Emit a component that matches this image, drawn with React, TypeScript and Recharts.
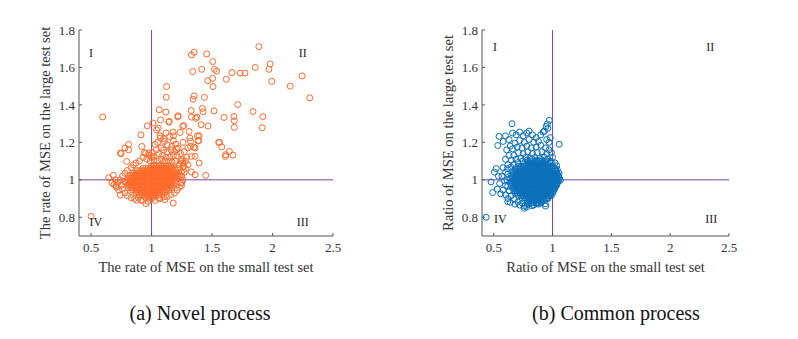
import React from 'react';
import { ScatterChart, Scatter, XAxis, YAxis, ReferenceLine, ReferenceDot } from 'recharts';

const FONT = "'Liberation Serif', 'Times New Roman', serif";
const ORANGE = '#FF6A2B';
const BLUE = '#0A70BA';
const PURPLE = '#7E3FA6';
const AXIS = '#555555';
const TEXT = '#333333';

const xTicks = [0.5, 1, 1.5, 2, 2.5];
const yTicks = [0.8, 1, 1.2, 1.4, 1.6, 1.8];
const quadrantNames = ['I', 'II', 'III', 'IV'];

// (a) Novel process — scattered points
const novelOutliers: [number, number][] = [
  [1.887, 1.711], [1.352, 1.681], [1.33, 1.667], [1.456, 1.672], [1.505, 1.631], [1.52, 1.59], [1.538, 1.58],
  [1.415, 1.59], [1.34, 1.578], [1.98, 1.619], [1.97, 1.59], [1.857, 1.6], [1.665, 1.573], [1.733, 1.57],
  [1.772, 1.57], [1.618, 1.537], [1.464, 1.53], [1.505, 1.542], [1.994, 1.526], [1.508, 1.498], [1.124, 1.498],
  [2.146, 1.5], [2.245, 1.555], [2.308, 1.438], [1.121, 1.441], [1.352, 1.448], [1.343, 1.43], [1.437, 1.44],
  [0.596, 1.336], [1.063, 1.374], [1.42, 1.381], [1.426, 1.363], [1.327, 1.37], [1.516, 1.368], [1.365, 1.328],
  [1.409, 1.294], [1.33, 1.335], [1.599, 1.333], [1.712, 1.402], [1.92, 1.338], [1.838, 1.365], [1.915, 1.278],
  [1.684, 1.315], [1.681, 1.338], [1.684, 1.28], [1.467, 1.287], [1.266, 1.29], [1.258, 1.285], [1.217, 1.336],
  [1.146, 1.312], [1.074, 1.32], [1.011, 1.303], [0.964, 1.288], [1.041, 1.267], [1.055, 1.276], [1.072, 1.223],
  [1.107, 1.205], [1.181, 1.235], [1.236, 1.253], [1.31, 1.258], [1.316, 1.223], [1.322, 1.206], [1.393, 1.235],
  [1.385, 1.207], [1.349, 1.175], [1.36, 1.125], [1.393, 1.09], [1.33, 1.125], [1.563, 1.2], [1.58, 1.176],
  [1.61, 1.125], [1.643, 1.152], [1.673, 1.132], [1.33, 1.042], [1.36, 1.027], [1.448, 1.024], [1.266, 1.072],
  [1.255, 1.107], [1.206, 1.164], [1.168, 1.178], [1.129, 1.187], [1.03, 1.189], [1.008, 1.146], [1.014, 1.125],
  [0.92, 1.178], [0.94, 1.146], [0.978, 1.143], [0.912, 1.24], [0.81, 1.189], [0.78, 1.17], [0.742, 1.143],
  [0.748, 1.14], [0.794, 1.098], [0.81, 1.16], [0.5, 0.805], [0.646, 1.011], [0.684, 1.024], [0.673, 0.983],
  [0.706, 0.969], [0.742, 0.919], [0.75, 0.97], [0.775, 0.99], [1.179, 0.876], [1.11, 0.894], [0.953, 0.873],
  [0.912, 0.891], [0.874, 0.891], [1.058, 0.903], [1.247, 0.969], [1.239, 0.982], [1.239, 1.024], [1.247, 1.042],
  [1.258, 1.09], [1.118, 1.362], [1.219, 1.342], [1.376, 1.335], [1.178, 1.255], [1.143, 1.308], [1.379, 1.235],
  [1.39, 1.21], [1.36, 1.17], [1.322, 1.178], [1.555, 1.2], [1.613, 1.134]
];

const novelMid: [number, number][] = [
  [1.07, 1.235], [1.1, 1.22], [1.12, 1.25], [1.15, 1.23], [1.18, 1.21], [1.2, 1.19], [1.22, 1.17], [1.19, 1.15],
  [1.16, 1.16], [1.13, 1.15], [1.1, 1.16], [1.08, 1.17], [1.05, 1.2], [1.04, 1.16], [1.06, 1.14], [1.09, 1.13],
  [1.12, 1.12], [1.15, 1.12], [1.18, 1.13], [1.21, 1.13], [1.24, 1.14], [1.27, 1.15], [1.29, 1.12], [1.3, 1.17],
  [1.26, 1.2], [1.28, 1.1], [1.24, 1.1], [1.2, 1.1], [1.17, 1.095], [1.14, 1.1], [1.11, 1.1], [1.08, 1.11],
  [1.05, 1.1], [1.02, 1.105], [0.99, 1.1], [0.96, 1.11], [0.93, 1.12], [0.9, 1.1], [0.87, 1.09], [0.85, 1.08],
  [0.83, 1.065], [0.8, 1.05], [0.78, 1.035], [0.76, 1.02], [0.74, 1.0], [0.72, 0.985], [0.7, 1.0], [0.69, 0.975],
  [0.71, 0.96], [0.73, 0.945], [0.76, 0.95], [0.78, 0.93], [0.8, 0.915], [0.83, 0.905], [0.86, 0.9], [0.89, 0.905],
  [0.93, 0.89], [0.97, 0.885], [1.0, 0.9], [1.03, 0.89], [1.07, 0.9], [1.1, 0.91], [1.13, 0.91], [1.16, 0.92],
  [1.19, 0.93], [1.21, 0.945], [1.23, 0.96], [1.25, 0.985], [1.26, 1.0], [1.25, 1.02], [1.27, 1.04], [1.28, 1.06],
  [1.26, 1.07], [1.3, 1.08], [1.23, 1.08], [1.22, 1.06], [0.98, 1.13], [1.0, 1.12], [0.95, 1.14]
];

// (a) dense core: one y per row, x values per row
const novelCoreY = [1.075, 1.062, 1.049, 1.036, 1.023, 1.01, 0.997, 0.984, 0.971, 0.958, 0.945, 0.932, 0.919, 0.906];
const novelCoreX: number[][] = [
  [1.0, 1.02, 1.04, 1.06, 1.08, 1.1, 1.12, 1.14, 1.16],
  [0.93, 0.95, 0.97, 0.99, 1.01, 1.03, 1.05, 1.07, 1.09, 1.11, 1.13, 1.15, 1.17, 1.19],
  [0.88, 0.9, 0.92, 0.94, 0.96, 0.98, 1.0, 1.02, 1.04, 1.06, 1.08, 1.1, 1.12, 1.14, 1.16, 1.18, 1.2],
  [0.85, 0.87, 0.89, 0.91, 0.93, 0.95, 0.97, 0.99, 1.01, 1.03, 1.05, 1.07, 1.09, 1.11, 1.13, 1.15, 1.17, 1.19, 1.21],
  [0.82, 0.84, 0.86, 0.88, 0.9, 0.92, 0.94, 0.96, 0.98, 1.0, 1.02, 1.04, 1.06, 1.08, 1.1, 1.12, 1.14, 1.16, 1.18, 1.2, 1.22],
  [0.81, 0.83, 0.85, 0.87, 0.89, 0.91, 0.93, 0.95, 0.97, 0.99, 1.01, 1.03, 1.05, 1.07, 1.09, 1.11, 1.13, 1.15, 1.17, 1.19, 1.21],
  [0.8, 0.82, 0.84, 0.86, 0.88, 0.9, 0.92, 0.94, 0.96, 0.98, 1.0, 1.02, 1.04, 1.06, 1.08, 1.1, 1.12, 1.14, 1.16, 1.18, 1.2],
  [0.79, 0.81, 0.83, 0.85, 0.87, 0.89, 0.91, 0.93, 0.95, 0.97, 0.99, 1.01, 1.03, 1.05, 1.07, 1.09, 1.11, 1.13, 1.15, 1.17, 1.19],
  [0.8, 0.82, 0.84, 0.86, 0.88, 0.9, 0.92, 0.94, 0.96, 0.98, 1.0, 1.02, 1.04, 1.06, 1.08, 1.1, 1.12, 1.14, 1.16, 1.18],
  [0.81, 0.83, 0.85, 0.87, 0.89, 0.91, 0.93, 0.95, 0.97, 0.99, 1.01, 1.03, 1.05, 1.07, 1.09, 1.11, 1.13, 1.15, 1.17],
  [0.84, 0.86, 0.88, 0.9, 0.92, 0.94, 0.96, 0.98, 1.0, 1.02, 1.04, 1.06, 1.08, 1.1, 1.12, 1.14],
  [0.87, 0.89, 0.91, 0.93, 0.95, 0.97, 0.99, 1.01, 1.03, 1.05, 1.07, 1.09, 1.11],
  [0.9, 0.92, 0.94, 0.96, 0.98, 1.0, 1.02, 1.04, 1.06],
  [0.95, 0.97, 0.99, 1.01]
];

// (b) Common process — scattered points
const commonOutliers: [number, number][] = [
  [0.972, 1.318], [0.955, 1.298], [0.945, 1.285], [0.96, 1.275], [0.93, 1.26], [0.655, 1.3], [0.545, 1.232],
  [0.534, 1.183], [0.58, 1.205], [0.6, 1.235], [0.63, 1.215], [0.66, 1.25], [0.69, 1.24], [0.72, 1.255],
  [0.75, 1.235], [0.78, 1.25], [0.8, 1.26], [0.83, 1.24], [0.86, 1.225], [0.9, 1.24], [0.92, 1.255], [0.98, 1.225],
  [0.97, 1.2], [0.95, 1.215], [0.88, 1.205], [0.84, 1.2], [0.8, 1.215], [0.76, 1.2], [0.72, 1.21], [0.68, 1.195],
  [0.64, 1.18], [0.61, 1.16], [0.66, 1.165], [0.7, 1.175], [0.74, 1.17], [0.78, 1.18], [0.82, 1.17], [0.86, 1.175],
  [0.9, 1.185], [0.94, 1.17], [0.97, 1.16], [0.99, 1.145], [1.056, 1.19], [0.95, 1.14], [0.91, 1.15], [0.87, 1.145],
  [0.83, 1.14], [0.79, 1.15], [0.75, 1.14], [0.71, 1.145], [0.67, 1.13], [0.63, 1.13], [0.6, 1.11], [0.65, 1.105],
  [0.69, 1.11], [0.73, 1.115], [0.77, 1.12], [0.81, 1.115], [0.85, 1.12], [0.89, 1.115], [0.93, 1.12], [0.96, 1.11],
  [0.99, 1.095], [1.0, 1.12], [0.62, 1.08], [0.58, 1.065], [0.6, 1.04], [0.57, 1.02], [0.59, 0.995], [0.6, 0.97],
  [0.58, 0.945], [0.6, 0.92], [0.62, 0.9], [0.64, 0.88], [0.68, 0.87], [0.72, 0.865], [0.76, 0.86], [0.8, 0.87],
  [0.84, 0.865], [0.88, 0.87], [0.938, 0.872], [0.92, 0.89], [0.96, 0.9], [0.98, 0.92], [1.0, 0.94], [1.02, 0.96],
  [1.04, 0.985], [1.066, 0.997], [1.05, 1.015], [1.055, 1.035], [1.04, 1.055], [1.035, 1.075], [1.02, 1.09], [0.98, 1.1],
  [0.477, 0.989], [0.49, 0.932], [0.506, 1.041], [0.52, 1.06], [0.54, 1.02], [0.55, 0.98], [0.53, 0.95], [0.56, 0.925],
  [0.435, 0.8], [0.619, 0.883], [0.76, 0.848], [0.78, 0.855], [0.94, 0.86]
];

// (b) ragged edge around the core
const commonEdge: [number, number][] = [
  [0.615, 1.06], [0.62, 1.03], [0.612, 1.0], [0.618, 0.965], [0.632, 0.94], [0.648, 0.915], [0.675, 0.895],
  [0.705, 0.882], [0.742, 0.876], [0.785, 0.868], [0.825, 0.862], [0.865, 0.874], [0.905, 0.88], [0.955, 0.905],
  [0.985, 0.93], [1.01, 0.952], [1.035, 0.972], [1.048, 1.0], [1.042, 1.028], [1.028, 1.052], [1.006, 1.072],
  [0.975, 1.09], [0.945, 1.103], [0.905, 1.108], [0.865, 1.104], [0.825, 1.11], [0.785, 1.106], [0.745, 1.1],
  [0.705, 1.092], [0.672, 1.082], [0.645, 1.068]
];

// (b) dense core
const commonCoreY = [1.098, 1.085, 1.072, 1.059, 1.046, 1.033, 1.02, 1.007, 0.994, 0.981, 0.968, 0.955, 0.942, 0.929, 0.916, 0.903, 0.89, 0.877];
const commonCoreX: number[][] = [
  [0.79, 0.81, 0.83, 0.85, 0.87, 0.89, 0.91, 0.93],
  [0.76, 0.78, 0.8, 0.82, 0.84, 0.86, 0.88, 0.9, 0.92, 0.94, 0.96],
  [0.71, 0.73, 0.75, 0.77, 0.79, 0.81, 0.83, 0.85, 0.87, 0.89, 0.91, 0.93, 0.95, 0.97, 0.99],
  [0.68, 0.7, 0.72, 0.74, 0.76, 0.78, 0.8, 0.82, 0.84, 0.86, 0.88, 0.9, 0.92, 0.94, 0.96, 0.98, 1.0, 1.02],
  [0.67, 0.69, 0.71, 0.73, 0.75, 0.77, 0.79, 0.81, 0.83, 0.85, 0.87, 0.89, 0.91, 0.93, 0.95, 0.97, 0.99, 1.01, 1.03],
  [0.66, 0.68, 0.7, 0.72, 0.74, 0.76, 0.78, 0.8, 0.82, 0.84, 0.86, 0.88, 0.9, 0.92, 0.94, 0.96, 0.98, 1.0, 1.02, 1.04],
  [0.65, 0.67, 0.69, 0.71, 0.73, 0.75, 0.77, 0.79, 0.81, 0.83, 0.85, 0.87, 0.89, 0.91, 0.93, 0.95, 0.97, 0.99, 1.01, 1.03, 1.05],
  [0.64, 0.66, 0.68, 0.7, 0.72, 0.74, 0.76, 0.78, 0.8, 0.82, 0.84, 0.86, 0.88, 0.9, 0.92, 0.94, 0.96, 0.98, 1.0, 1.02, 1.04, 1.06],
  [0.65, 0.67, 0.69, 0.71, 0.73, 0.75, 0.77, 0.79, 0.81, 0.83, 0.85, 0.87, 0.89, 0.91, 0.93, 0.95, 0.97, 0.99, 1.01, 1.03, 1.05],
  [0.64, 0.66, 0.68, 0.7, 0.72, 0.74, 0.76, 0.78, 0.8, 0.82, 0.84, 0.86, 0.88, 0.9, 0.92, 0.94, 0.96, 0.98, 1.0, 1.02, 1.04],
  [0.65, 0.67, 0.69, 0.71, 0.73, 0.75, 0.77, 0.79, 0.81, 0.83, 0.85, 0.87, 0.89, 0.91, 0.93, 0.95, 0.97, 0.99, 1.01, 1.03],
  [0.66, 0.68, 0.7, 0.72, 0.74, 0.76, 0.78, 0.8, 0.82, 0.84, 0.86, 0.88, 0.9, 0.92, 0.94, 0.96, 0.98, 1.0, 1.02],
  [0.67, 0.69, 0.71, 0.73, 0.75, 0.77, 0.79, 0.81, 0.83, 0.85, 0.87, 0.89, 0.91, 0.93, 0.95, 0.97, 0.99, 1.01],
  [0.68, 0.7, 0.72, 0.74, 0.76, 0.78, 0.8, 0.82, 0.84, 0.86, 0.88, 0.9, 0.92, 0.94, 0.96, 0.98, 1.0],
  [0.71, 0.73, 0.75, 0.77, 0.79, 0.81, 0.83, 0.85, 0.87, 0.89, 0.91, 0.93, 0.95, 0.97, 0.99],
  [0.74, 0.76, 0.78, 0.8, 0.82, 0.84, 0.86, 0.88, 0.9, 0.92, 0.94, 0.96],
  [0.77, 0.79, 0.81, 0.83, 0.85, 0.87, 0.89, 0.91, 0.93],
  [0.8, 0.82, 0.84, 0.86, 0.88, 0.9]
];

// quadrant label anchors (data units)
const novelQuadX = [0.5, 2.25, 2.25, 0.54];
const novelQuadY = [1.68, 1.68, 0.777, 0.777];
const commonQuadX = [0.51, 2.34, 2.35, 0.556];
const commonQuadY = [1.71, 1.71, 0.79, 0.79];

const pairsToData = (pairs: [number, number][]) => pairs.map(([x, y]) => ({ x, y }));
const rowsToData = (ys: number[], xs: number[][]) =>
  xs.flatMap((row, i) => row.map((x) => ({ x, y: ys[i] })));

const novelData = [...pairsToData(novelOutliers), ...pairsToData(novelMid), ...rowsToData(novelCoreY, novelCoreX)];
const commonData = [...pairsToData(commonOutliers), ...pairsToData(commonEdge), ...rowsToData(commonCoreY, commonCoreX)];

const ring = (color: string) => (props: any) => (
  <circle cx={props.cx} cy={props.cy} r={3} fill="none" stroke={color} strokeWidth={1} />
);

interface PanelProps {
  data: { x: number; y: number }[];
  color: string;
  xLabel: string;
  yLabel: string;
  quadX: number[];
  quadY: number[];
  marginLeft: number;
  marginRight: number;
  width: number;
}

function Panel({ data, color, xLabel, yLabel, quadX, quadY, marginLeft, marginRight, width }: PanelProps) {
  const tickStyle = { fontSize: 13, fill: TEXT, fontFamily: FONT };
  return (
    <ScatterChart
      width={width}
      height={339}
      margin={{ top: 30, right: marginRight, bottom: 42, left: marginLeft }}
    >
      <XAxis
        type="number"
        dataKey="x"
        domain={[0.4, 2.5]}
        ticks={xTicks}
        allowDataOverflow
        height={61}
        stroke={AXIS}
        tickSize={-3}
        tickMargin={10}
        tick={tickStyle}
        label={{ value: xLabel, position: 'center', fontSize: 14.5, fill: TEXT, fontFamily: FONT }}
      />
      <YAxis
        type="number"
        dataKey="y"
        domain={[0.7, 1.8]}
        ticks={yTicks}
        allowDataOverflow
        width={68}
        stroke={AXIS}
        tickSize={-3}
        tickMargin={7}
        tick={tickStyle}
        label={{ value: yLabel, position: 'center', angle: -90, fontSize: 14.5, fill: TEXT, fontFamily: FONT }}
      />
      <Scatter data={data} shape={ring(color)} isAnimationActive={false} />
      <ReferenceLine x={1} stroke={PURPLE} strokeWidth={1} />
      <ReferenceLine y={1} stroke={PURPLE} strokeWidth={1} />
      {quadrantNames.map((name, i) => (
        <ReferenceDot
          key={name}
          x={quadX[i]}
          y={quadY[i]}
          r={0}
          fill="none"
          stroke="none"
          label={{ value: name, position: 'center', fontSize: 12, fill: '#222', fontFamily: FONT }}
        />
      ))}
    </ScatterChart>
  );
}

export default function App() {
  const captionStyle: React.CSSProperties = {
    position: 'absolute',
    top: 300,
    fontFamily: FONT,
    fontSize: 20,
    color: '#111',
    whiteSpace: 'nowrap',
    transform: 'translateX(-50%)',
    lineHeight: '26px',
  };
  return (
    <div style={{ position: 'absolute', left: 0, top: 0, width: 798, height: 339, background: '#fff', overflow: 'hidden' }}>
      <div style={{ position: 'absolute', left: 0, top: 0 }}>
        <Panel
          data={novelData}
          color={ORANGE}
          xLabel="The rate of MSE on the small test set"
          yLabel="The rate of MSE on the large test set"
          quadX={novelQuadX}
          quadY={novelQuadY}
          marginLeft={11}
          marginRight={67}
          width={400}
        />
      </div>
      <div style={{ position: 'absolute', left: 400, top: 0 }}>
        <Panel
          data={commonData}
          color={BLUE}
          xLabel="Ratio of MSE on the small test set"
          yLabel="Ratio of MSE on the large test set"
          quadX={commonQuadX}
          quadY={commonQuadY}
          marginLeft={14}
          marginRight={69}
          width={398}
        />
      </div>
      <div style={{ ...captionStyle, left: 200 }}>(a) Novel process</div>
      <div style={{ ...captionStyle, left: 616 }}>(b) Common process</div>
    </div>
  );
}
